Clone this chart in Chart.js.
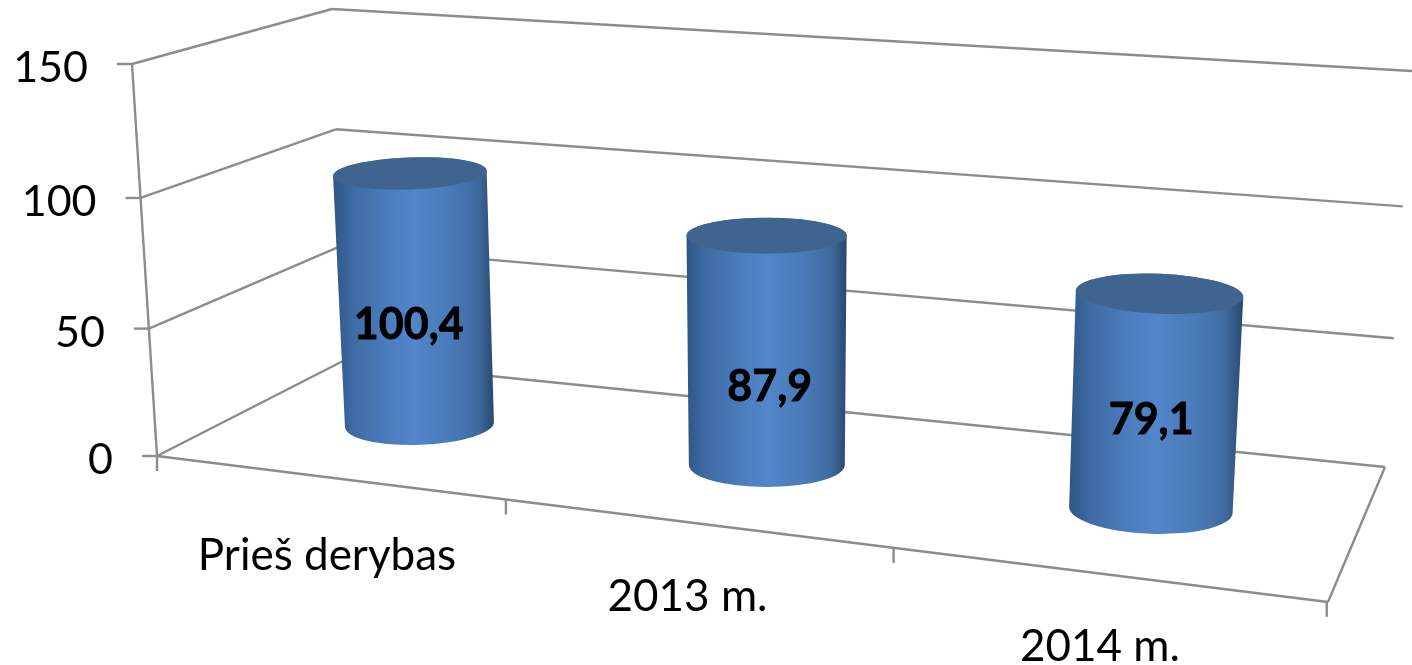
<!DOCTYPE html>
<html>
<head>
<meta charset="utf-8">
<style>html,body{margin:0;padding:0;background:#fff;overflow:hidden}canvas{display:block}</style>
<script src="https://cdn.jsdelivr.net/npm/chart.js@4"></script>
</head>
<body>
<canvas id="c" width="1412" height="665"></canvas>
<script>
const categories = ['Prieš derybas', '2013 m.', '2014 m.'];
const seriesValues = [100.4, 87.9, 79.1];
const yMin = 0, yMax = 150, yStep = 50;

// Projection of the flat chart area on the perspective frame (unit square -> quad: p00,p10,p11,p01)
function makeH(p0, p1, p2, p3) {
  const [x0,y0]=p0,[x1,y1]=p1,[x2,y2]=p2,[x3,y3]=p3;
  const dx1=x1-x2,dx2=x3-x2,sx=x0-x1+x2-x3,dy1=y1-y2,dy2=y3-y2,sy=y0-y1+y2-y3;
  const den=dx1*dy2-dx2*dy1, g=(sx*dy2-dx2*sy)/den, h=(dx1*sy-sx*dy1)/den;
  const a=x1-x0+g*x1,b=x3-x0+h*x3,d=y1-y0+g*y1,e=y3-y0+h*y3;
  return (u,v)=>{const w=g*u+h*v+1;return [(a*u+b*v+x0)/w,(d*u+e*v+y0)/w];};
}
const barPlane = makeH([257.9,405.7],[1358.5,534],[1385.4,105],[237.4,34]);

// The frame's three vertical edges, bottom -> top
const frontEdge = [[157,456],[132,64]];
const cornerEdge = [[343,361],[332,9]];
const rightEdge = [[1385,467],[1412,71]];
const floorFront = [[157,456],[1328,602]];

function onEdge(E,v){
  const t=v*(1-.037)/(1-.037*v);
  return [E[0][0]+(E[1][0]-E[0][0])*t, E[0][1]+(E[1][1]-E[0][1])*t];
}
function onFloorFront(u){
  const x=(971*u+157)/(1-.1498*u);
  const [a,b]=floorFront;
  return [x,a[1]+(x-a[0])*(b[1]-a[1])/(b[0]-a[0])];
}

const LINE = '#8c8c8c', FONT = 'Lato, Carlito, sans-serif';
const categoryLabelNudge = [[0,93],[-7,88],[-4,87]];
const valueLabelNudge = [[-6,24],[3,35],[-4,17]];

function seg(ctx,a,b){ctx.beginPath();ctx.moveTo(a[0],a[1]);ctx.lineTo(b[0],b[1]);ctx.stroke();}

const frame3d = {
  id:'frame3d',
  beforeDatasetsDraw(chart){
    const {ctx,scales:{y},chartArea:A}=chart;
    ctx.save();
    ctx.strokeStyle=LINE;ctx.lineWidth=2.4;ctx.lineCap='butt';
    const vOf=t=>(A.bottom-y.getPixelForValue(t))/(A.bottom-A.top);
    seg(ctx,frontEdge[0],frontEdge[1]);
    y.ticks.forEach(t=>{
      const v=vOf(t.value);
      const f=onEdge(frontEdge,v), b=onEdge(cornerEdge,v), r=onEdge(rightEdge,v);
      seg(ctx,f,b);seg(ctx,b,r);
      seg(ctx,[f[0]-15,f[1]],f);
      ctx.fillStyle='#000';ctx.font='43px '+FONT;ctx.textAlign='right';ctx.textBaseline='alphabetic';
      ctx.fillText(String(t.value),f[0]-44,f[1]+18);
    });
    seg(ctx,floorFront[0],floorFront[1]);
    seg(ctx,floorFront[1],rightEdge[0]);
    const n=categories.length;
    for(let i=0;i<=n;i++){
      const p=onFloorFront(i/n);
      seg(ctx,p,[p[0],p[1]+15]);
    }
    categories.forEach((c,i)=>{
      const p=onFloorFront((i+.5)/n), nudge=categoryLabelNudge[i];
      ctx.fillStyle='#000';ctx.font='44px '+FONT;ctx.textAlign='center';ctx.textBaseline='alphabetic';
      ctx.fillText(c,p[0]+nudge[0],p[1]+nudge[1]);
    });
    ctx.restore();
  },
  beforeDatasetDraw(chart,args){
    const {ctx,chartArea:A}=chart, meta=args.meta, W=A.right-A.left, H=A.bottom-A.top;
    const cxMid=barPlane(.5,0)[0];
    ctx.save();
    meta.data.forEach(bar=>{
      const u=(bar.x-A.left)/W;
      const vt=(A.bottom-bar.y)/H, vb=(A.bottom-bar.base)/H;
      const end=v=>{
        const c=barPlane(u,v);
        const rx=bar.width/2*(.727+.0000973*(c[0]-410)+.035*v);
        return {x:c[0],y:c[1],rx,ry:rx*(.165+.00025*c[1]),th:(c[0]-cxMid)*.0001};
      };
      const T=end(vt),B=end(vb);
      const pt=(E,s)=>[E.x+s*E.rx*Math.cos(E.th),E.y+s*E.rx*Math.sin(E.th)];
      const tl=pt(T,-1),bl=pt(B,-1),br=pt(B,1),tr=pt(T,1);
      const x0=Math.min(tl[0],bl[0]),x1=Math.max(tr[0],br[0]);
      const g=ctx.createLinearGradient(x0,0,x1,0);
      g.addColorStop(0,'#2f5585');g.addColorStop(.12,'#3e6ba4');g.addColorStop(.35,'#4c7dbf');
      g.addColorStop(.5,'#5286c9');g.addColorStop(.72,'#4a7bb9');g.addColorStop(.9,'#3f6a9f');g.addColorStop(1,'#2a486f');
      ctx.beginPath();
      ctx.moveTo(tl[0],tl[1]);ctx.lineTo(bl[0],bl[1]);
      ctx.ellipse(B.x,B.y,B.rx,B.ry,B.th,Math.PI,0,true);
      ctx.lineTo(tr[0],tr[1]);
      ctx.ellipse(T.x,T.y,T.rx,T.ry,T.th,0,Math.PI,true);
      ctx.closePath();
      ctx.fillStyle=g;ctx.fill();
      ctx.beginPath();
      ctx.ellipse(T.x,T.y,T.rx,T.ry,T.th,0,Math.PI*2);
      ctx.fillStyle='#3f648f';ctx.fill();
    });
    ctx.restore();
    return false;
  },
  afterDatasetsDraw(chart){
    const {ctx,chartArea:A}=chart, meta=chart.getDatasetMeta(0), W=A.right-A.left, H=A.bottom-A.top;
    ctx.save();
    ctx.fillStyle='#000';ctx.strokeStyle='#000';ctx.lineWidth=.8;
    ctx.font='bold 43px '+FONT;ctx.textAlign='center';ctx.textBaseline='middle';
    meta.data.forEach((bar,i)=>{
      const u=(bar.x-A.left)/W, v=(A.bottom-(bar.y+bar.base)/2)/H;
      const p=barPlane(u,v), nudge=valueLabelNudge[i];
      const s=String(seriesValues[i]).replace('.',',');
      ctx.fillText(s,p[0]+nudge[0],p[1]+nudge[1]);
      ctx.strokeText(s,p[0]+nudge[0],p[1]+nudge[1]);
    });
    ctx.restore();
  }
};

new Chart(document.getElementById('c'),{
  type:'bar',
  data:{labels:categories,datasets:[{data:seriesValues,backgroundColor:'#4f81bd',barPercentage:.435,categoryPercentage:1}]},
  options:{
    responsive:false,animation:false,
    layout:{padding:0},
    plugins:{legend:{display:false},tooltip:{enabled:false}},
    scales:{
      x:{display:false,type:'category'},
      y:{display:false,min:yMin,max:yMax,ticks:{stepSize:yStep}}
    }
  },
  plugins:[frame3d]
});
</script>
</body>
</html>
